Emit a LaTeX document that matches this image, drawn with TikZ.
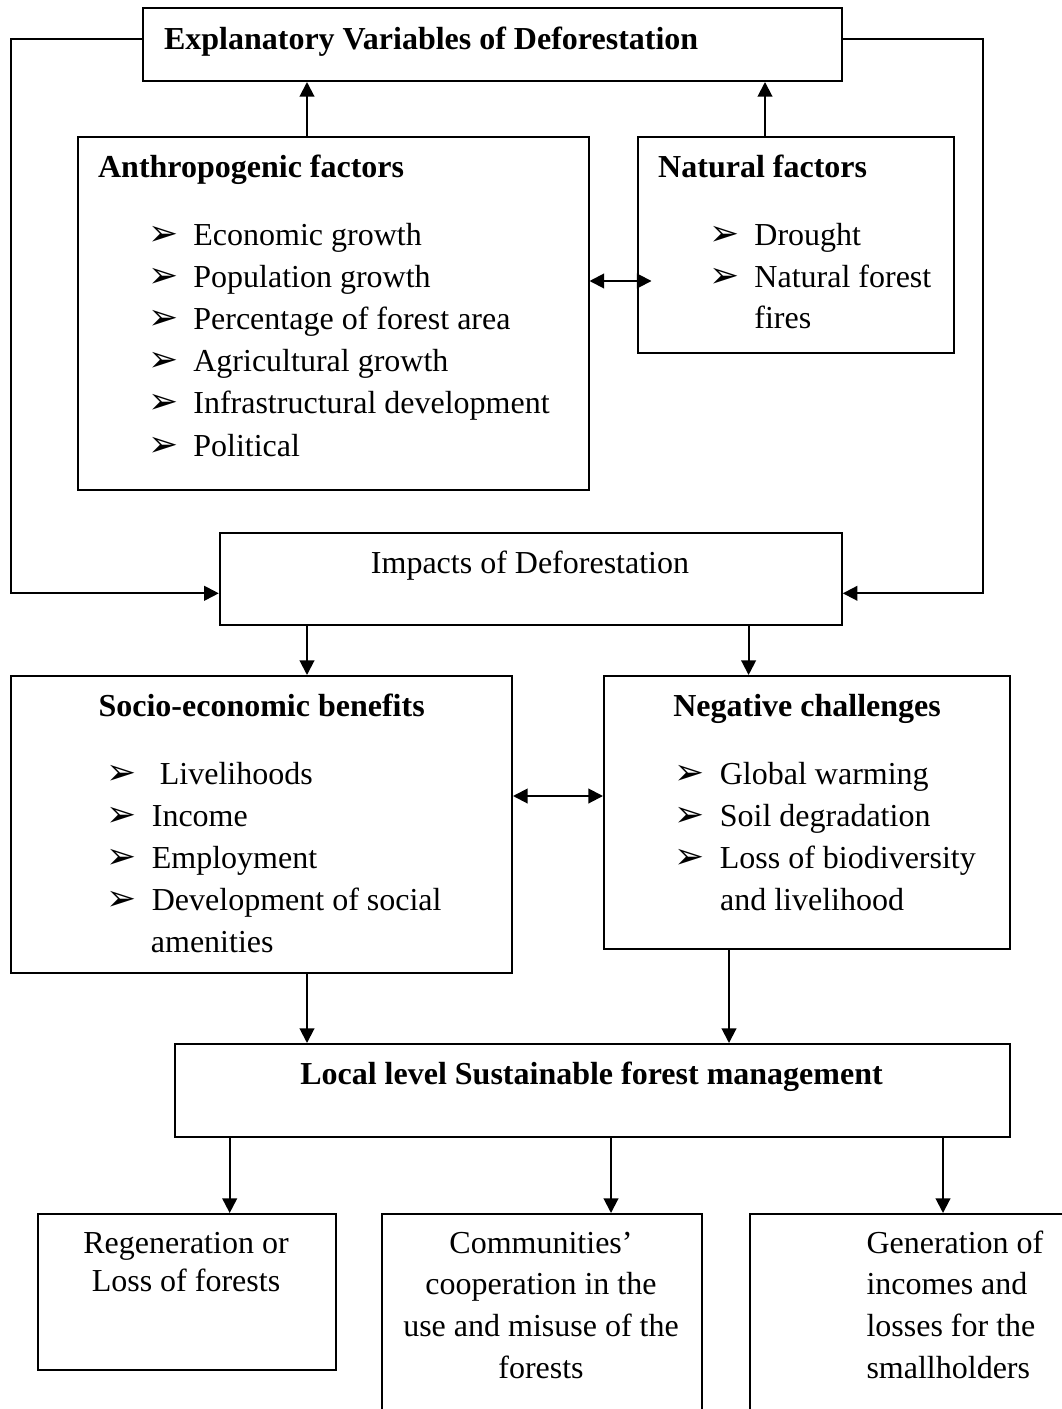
\documentclass[tikz,border=0pt]{standalone}
\usepackage{fontspec}
\setmainfont{Liberation Serif}
\newfontfamily\symfont{DejaVu Sans}
\usetikzlibrary{arrows.meta}
\newcommand{\blt}{\makebox[17pt][l]{\symfont\fontsize{13.5pt}{13.5pt}\selectfont ➢}}

\begin{document}
\begin{tikzpicture}[x=0.375pt,y=-0.375pt,
    box/.style={draw, line width=0.75pt, inner sep=0pt, anchor=north west},
    txt/.style={inner sep=0pt, font=\fontsize{12pt}{15pt}\selectfont},
    arr/.style={line width=0.75pt, -{Triangle[length=5.5pt,width=5.5pt]}},
    dbl/.style={line width=0.75pt, {Triangle[length=5.5pt,width=5.5pt]}-{Triangle[length=5.5pt,width=5.5pt]}}]
  \pgfmathsetmacro{\px}{0.375}
  \pgfmathsetmacro{\ls}{42.2}
  \clip (0,0) rectangle (1062,1409);
  \coordinate (X1) at (307,0);
  \coordinate (X2) at (765,0);
  \coordinate (X3) at (748.6,0);
  \coordinate (X4) at (729,0);
  \coordinate (X5) at (229.7,0);
  \coordinate (X6) at (611,0);
  \coordinate (X7) at (943,0);
  \coordinate (XL) at (10.5,0);
  \coordinate (XR) at (982.5,0);
  \coordinate (Y1) at (0,39.3);
  \coordinate (Y2) at (0,593.3);
  \coordinate (Y3) at (0,281);
  \coordinate (Y4) at (0,796);
  \node[box, minimum width=699*\px pt, minimum height=73*\px pt] (expl) at (142,7) {};
  \node[box, minimum width=510.5*\px pt, minimum height=352.7*\px pt] (anthro) at (77,136) {};
  \node[box, minimum width=316.4*\px pt, minimum height=215.7*\px pt] (natural) at (636.6,136) {};
  \node[box, minimum width=622*\px pt, minimum height=92*\px pt] (impacts) at (218.8,532) {};
  \node[box, minimum width=501*\px pt, minimum height=297*\px pt] (socio) at (10,675) {};
  \node[box, minimum width=406*\px pt, minimum height=272.7*\px pt] (negative) at (603,675) {};
  \node[box, minimum width=835*\px pt, minimum height=93*\px pt] (local) at (174,1043) {};
  \node[box, minimum width=298*\px pt, minimum height=156*\px pt] (boxA) at (37,1213) {};
  \node[box, minimum width=320*\px pt, minimum height=250*\px pt] (boxB) at (381,1213) {};
  \node[box, minimum width=350*\px pt, minimum height=250*\px pt] (boxC) at (749,1213) {};
  \node[txt, anchor=base west] (explT) at (163.5,49.3) {\bfseries Explanatory Variables of Deforestation};
  \node[txt, anchor=base west] (anthroT) at (97.6,177) {\bfseries Anthropogenic factors};
  \foreach \t [count=\i from 0] in {Economic growth, Population growth, Percentage of forest area, Agricultural growth, Infrastructural development, Political}
    \node[txt, anchor=base west] (anthro-\i) at (147.5,{245+\ls*\i}) {\blt\t};
  \node[txt, anchor=base west] (naturalT) at (657.7,177) {\bfseries Natural factors};
  \foreach \t [count=\i from 0] in {Drought, Natural forest}
    \node[txt, anchor=base west] (natural-\i) at (708.6,{245+\ls*\i}) {\blt\t};
  \node[txt, anchor=base west] (natural-2) at (753.8,328.5) {fires};
  \node[txt, anchor=base] (impactsT) at (530,573) {Impacts of Deforestation};
  \node[txt, anchor=base west] (socioT) at (98,716) {\bfseries Socio-economic benefits};
  \foreach \t [count=\i from 0] in {\ Livelihoods, Income, Employment, Development of social}
    \node[txt, anchor=base west] (socio-\i) at (106,{784+\ls*\i}) {\blt\t};
  \node[txt, anchor=base west] (socio-4) at (150.4,952.7) {amenities};
  \node[txt, anchor=base west] (negativeT) at (672.8,716) {\bfseries Negative challenges};
  \foreach \t [count=\i from 0] in {Global warming, Soil degradation, Loss of biodiversity}
    \node[txt, anchor=base west] (negative-\i) at (674,{784+\ls*\i}) {\blt\t};
  \node[txt, anchor=base west] (negative-3) at (719.5,910.5) {and livelihood};
  \node[txt, anchor=base] (localT) at (591.5,1084) {\bfseries Local level Sustainable forest management};
  \foreach \t [count=\i from 0] in {Regeneration or, Loss of forests}
    \node[txt, anchor=base] (boxA-\i) at (186,{1253+38*\i}) {\t};
  \foreach \t [count=\i from 0] in {Communities’, cooperation in the, use and misuse of the, forests}
    \node[txt, anchor=base] (boxB-\i) at (541,{1253+41.7*\i}) {\t};
  \foreach \t [count=\i from 0] in {Generation of, incomes and, losses for the, smallholders}
    \node[txt, anchor=base west] (boxC-\i) at (866,{1253+41.7*\i}) {\t};
  \draw[arr] (anthro.north -| X1) -- (expl.south -| X1);
  \draw[arr] (natural.north -| X2) -- (expl.south -| X2);
  \draw[arr] (expl.west |- Y1) -- (XL |- Y1) -- (XL |- Y2) -- (impacts.west |- Y2);
  \draw[arr] (expl.east |- Y1) -- (XR |- Y1) -- (XR |- Y2) -- (impacts.east |- Y2);
  \draw[dbl, shorten >=-5.6pt] (anthro.east |- Y3) -- (natural.west |- Y3);
  \draw[arr] (impacts.south -| X1) -- (socio.north -| X1);
  \draw[arr] (impacts.south -| X3) -- (negative.north -| X3);
  \draw[dbl] (socio.east |- Y4) -- (negative.west |- Y4);
  \draw[arr] (socio.south -| X1) -- (local.north -| X1);
  \draw[arr] (negative.south -| X4) -- (local.north -| X4);
  \foreach \c/\b in {X5/boxA, X6/boxB, X7/boxC}
    \draw[arr] (local.south -| \c) -- (\b.north -| \c);
\end{tikzpicture}
\end{document}
